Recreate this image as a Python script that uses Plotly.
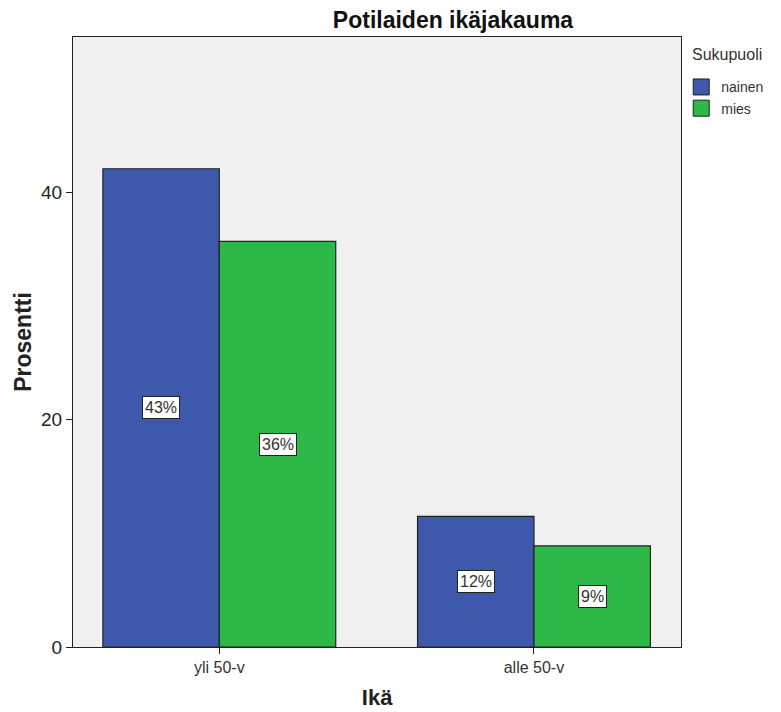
import plotly.graph_objects as go

categories = ["yli 50-v", "alle 50-v"]
nainen = [42.1, 11.5]
mies = [35.7, 8.9]
nainen_labels = ["43%", "12%"]
mies_labels = ["36%", "9%"]
y_ticks = [0, 20, 40]

BLUE = "#3e58ac"
GREEN = "#2eb848"
FONT = "Liberation Sans, Arial, sans-serif"

fig = go.Figure()
fig.add_trace(go.Bar(name="nainen", x=categories, y=nainen, showlegend=False,
                     marker=dict(color=BLUE, line=dict(color="#222", width=1.2))))
fig.add_trace(go.Bar(name="mies", x=categories, y=mies, showlegend=False,
                     marker=dict(color=GREEN, line=dict(color="#222", width=1.2))))
# legend swatches (larger squares like the reference)
for nm, col in (("nainen", BLUE), ("mies", GREEN)):
    fig.add_trace(go.Scatter(x=[None], y=[None], mode="markers", name=nm, legendgroup=nm,
                             marker=dict(symbol="square", size=16, color=col,
                                         line=dict(color="#222", width=1))))

half = 0.185
for i, cat in enumerate(categories):
    for vals, labs, off in ((nainen, nainen_labels, -half), (mies, mies_labels, half)):
        fig.add_annotation(x=i + off, y=vals[i] / 2, xref="x", yref="y", text=labs[i],
                           showarrow=False, bgcolor="white", bordercolor="#222", borderwidth=1,
                           borderpad=2, font=dict(family=FONT, size=16, color="#333"))

fig.add_annotation(x=1.014, y=0.988, xref="paper", yref="paper", xanchor="left", yanchor="top",
                   text="Sukupuoli", showarrow=False, font=dict(family=FONT, size=16, color="#333"))

fig.update_layout(
    width=781, height=712,
    margin=dict(l=65, r=105, t=29, b=73),
    paper_bgcolor="white", plot_bgcolor="#f0f0f0",
    barmode="group", bargap=0.26, bargroupgap=0,
    font=dict(family=FONT, color="#222"),
    title=dict(text="<b>Potilaiden ikäjakauma</b>", x=445 / 781, xanchor="center",
               y=1 - 12 / 712, yanchor="middle", font=dict(size=23, color="#111")),
    legend=dict(xref="container", yref="container", x=0.862, xanchor="left", y=0.911, yanchor="top",
                font=dict(size=14, color="#333"), bgcolor="rgba(0,0,0,0)",
                tracegroupgap=0, itemwidth=30, itemsizing="trace"),
    showlegend=True,
)
fig.update_xaxes(type="category", range=[-0.465, 1.468], showline=True, linecolor="#222", linewidth=1.2,
                 mirror=True, ticks="outside", ticklen=6, tickcolor="#222", automargin=False,
                 tickfont=dict(size=16, color="#333"), showgrid=False,
                 title=dict(text="<b>Ikä</b>", font=dict(size=22, color="#222"), standoff=14))
fig.update_yaxes(range=[0, 53.7], tickvals=y_ticks, showline=True, linecolor="#222", linewidth=1.2,
                 mirror=True, ticks="outside", ticklen=6, tickcolor="#222", automargin=False,
                 tickfont=dict(size=19, color="#222"), showgrid=False, zeroline=False,
                 title=dict(text="<b>Prosentti</b>", font=dict(size=23, color="#222"), standoff=2))

fig.write_html("out.html")
